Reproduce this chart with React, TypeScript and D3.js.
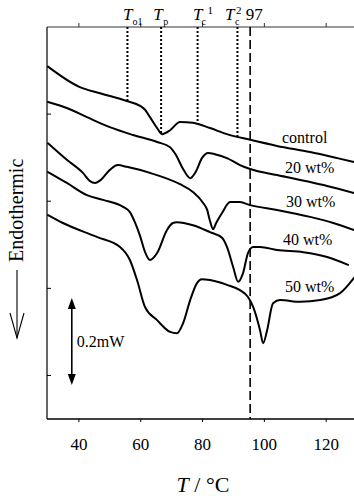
import React from 'react';
import * as d3 from 'd3';

const W = 354;
const H = 496;

// axis ticks
const xTickValues = [40, 60, 80, 100, 120];
const xTickLabels = ['40', '60', '80', '100', '120'];
const yTickValues = [0.2, 0.4, 0.6, 0.8];

// series names
const seriesNames = ['control', '20 wt%', '30 wt%', '40 wt%', '50 wt%'];

// control
const controlT = [30, 40.3, 46.8, 55.5, 59.8, 61.4, 63.0, 65.3, 66.9, 69.5, 72.7, 76.9, 82.4, 87.9, 95.4, 104.1, 114.8, 123.6, 129.0];
const controlQ = [0.909, 0.862, 0.848, 0.830, 0.819, 0.810, 0.793, 0.768, 0.754, 0.763, 0.782, 0.780, 0.768, 0.754, 0.741, 0.727, 0.713, 0.699, 0.690];

// 20 wt%
const w20T = [30, 36.1, 42.6, 50.0, 57.5, 65.3, 69.5, 71.4, 73.7, 76.0, 77.9, 79.8, 81.8, 84.0, 87.9, 92.1, 95.4, 104.1, 114.8, 120.3, 129.0];
const w20Q = [0.828, 0.814, 0.793, 0.770, 0.752, 0.736, 0.724, 0.706, 0.674, 0.653, 0.669, 0.699, 0.711, 0.708, 0.699, 0.683, 0.674, 0.660, 0.644, 0.635, 0.619];

// 30 wt%
const w30T = [30, 36.1, 41.3, 43.6, 45.2, 47.1, 50.0, 52.6, 55.5, 63.0, 72.7, 76.9, 80.2, 81.5, 82.4, 83.4, 84.4, 86.3, 88.9, 92.1, 95.4, 104.1, 114.8, 122.3, 129.0];
const w30Q = [0.733, 0.695, 0.665, 0.646, 0.642, 0.649, 0.672, 0.683, 0.679, 0.665, 0.639, 0.621, 0.596, 0.580, 0.555, 0.536, 0.550, 0.573, 0.598, 0.598, 0.591, 0.580, 0.564, 0.550, 0.534];

// 40 wt%
const w40T = [30, 36.1, 42.6, 47.8, 54.3, 56.5, 58.1, 59.8, 61.4, 63.0, 65.3, 68.5, 70.4, 71.7, 76.9, 82.4, 86.3, 87.9, 89.9, 91.5, 93.1, 94.7, 96.4, 98.6, 104.1, 112.6, 120.3, 127.1];
const w40Q = [0.667, 0.642, 0.614, 0.603, 0.587, 0.575, 0.552, 0.520, 0.483, 0.465, 0.481, 0.534, 0.550, 0.552, 0.545, 0.529, 0.516, 0.495, 0.449, 0.415, 0.435, 0.481, 0.495, 0.495, 0.488, 0.483, 0.472, 0.454];

// 50 wt%
const w50T = [30, 34.8, 45.8, 53.3, 56.5, 58.8, 61.4, 65.3, 69.5, 71.7, 73.7, 76.0, 78.2, 79.8, 82.4, 87.9, 92.1, 94.7, 96.4, 98.6, 99.6, 100.9, 102.8, 105.1, 111.6, 118.1, 124.5, 129.0];
const w50Q = [0.568, 0.550, 0.518, 0.495, 0.465, 0.419, 0.357, 0.327, 0.300, 0.297, 0.320, 0.373, 0.412, 0.421, 0.419, 0.408, 0.396, 0.380, 0.357, 0.304, 0.274, 0.304, 0.366, 0.373, 0.369, 0.373, 0.389, 0.424];

// characteristic temperatures
const markerSubs = ['o1', 'p', 'c', 'c'];
const markerSups = ['', '', '1', '2'];
const markerT = [55.7, 66.6, 78.4, 91.3];
const dashedT = 95.4;
const dashedLabel = '97';

// scale bar (mW)
const scaleBarT = 37.7;
const scaleBarLow = 0.178;
const scaleBarSpan = 0.2;
const scaleBarLabel = '0.2mW';

const xDomain = [30, 129];
const yDomain = [0.1, 1.0];

const serif = 'Liberation Serif, Times New Roman, DejaVu Serif, serif';

function interp(ts: number[], qs: number[], t: number): number {
  const i = d3.bisectLeft(ts, t);
  if (i <= 0) return qs[0];
  if (i >= ts.length) return qs[qs.length - 1];
  const f = (t - ts[i - 1]) / (ts[i] - ts[i - 1]);
  return qs[i - 1] + f * (qs[i] - qs[i - 1]);
}

export default function App() {
  const x = d3.scaleLinear().domain(xDomain).range([48, 354]);
  const y = d3.scaleLinear().domain(yDomain).range([419, 27]);

  const series = [
    { name: seriesNames[0], t: controlT, q: controlQ },
    { name: seriesNames[1], t: w20T, q: w20Q },
    { name: seriesNames[2], t: w30T, q: w30Q },
    { name: seriesNames[3], t: w40T, q: w40Q },
    { name: seriesNames[4], t: w50T, q: w50Q },
  ];

  const line = d3
    .line<[number, number]>()
    .x((d) => x(d[0]))
    .y((d) => y(d[1]))
    .curve(d3.curveMonotoneX);

  // label layout (pixel placement)
  const labelX = [282, 285, 286, 283, 285];
  const labelY = [143, 173, 207, 245, 292];

  const markerTdx = [-4.5, -8, -4.7, -12.5];
  const markerSubDx = [5, 2, 4, -2.5];
  const markerSupDx = [0, 0, 10, -1.5];

  const x0 = x(xDomain[0]);
  const x1 = x(xDomain[1]);
  const yTop = y(yDomain[1]);
  const yBot = y(yDomain[0]);

  const sbx = x(scaleBarT);
  const sbTop = y(scaleBarLow + scaleBarSpan);
  const sbBot = y(scaleBarLow);

  return (
    <svg
      width={W}
      height={H}
      viewBox={`0 0 ${W} ${H}`}
      style={{ position: 'absolute', left: 0, top: 0, background: '#fff' }}
    >
      <rect x={0} y={0} width={W} height={H} fill="#fff" />

      {/* axes */}
      <line x1={x0 - 1} x2={x0 - 1} y1={yTop} y2={yBot} stroke="#000" strokeWidth={1.2} />
      <line x1={x0 - 1} x2={x1} y1={yBot} y2={yBot} stroke="#000" strokeWidth={1.4} />
      <line x1={x0 - 1} x2={x1} y1={yTop} y2={yTop} stroke="#333" strokeWidth={1.2} />

      {xTickValues.map((v) => (
        <g key={`xt${v}`}>
          <line x1={x(v)} x2={x(v)} y1={yBot} y2={yBot + 3} stroke="#000" strokeWidth={1} />
          <line x1={x(v)} x2={x(v)} y1={yTop} y2={yTop - 4} stroke="#333" strokeWidth={1} />
        </g>
      ))}
      {xTickValues.map((v, i) => (
        <text
          key={`xl${v}`}
          x={x(v)}
          y={450}
          textAnchor="middle"
          fontFamily={serif}
          fontSize={17}
          fill="#000"
        >
          {xTickLabels[i]}
        </text>
      ))}
      {yTickValues.map((v) => (
        <line key={`yt${v}`} x1={x0 - 1} x2={x0 + 3} y1={y(v)} y2={y(v)} stroke="#000" strokeWidth={1} />
      ))}

      {/* x axis title */}
      <text x={203} y={492} textAnchor="middle" fontFamily={serif} fontSize={22} fill="#000">
        <tspan fontStyle="italic">T</tspan>
        <tspan> / </tspan>
        <tspan>°C</tspan>
      </text>

      {/* y axis title with arrow */}
      <text
        transform="translate(23,262) rotate(-90)"
        fontFamily={serif}
        fontSize={20}
        fill="#000"
      >
        Endothermic
      </text>
      <line x1={17} x2={17} y1={270} y2={338} stroke="#000" strokeWidth={1.1} />
      <polyline points={`10,313 17,338 24,313`} fill="none" stroke="#000" strokeWidth={1.1} />

      {/* characteristic temperature lines */}
      {markerT.map((t, i) => (
        <line
          key={`m${i}`}
          x1={x(t)}
          x2={x(t)}
          y1={yTop}
          y2={y(interp(controlT, controlQ, t))}
          stroke="#000"
          strokeWidth={2}
          strokeDasharray="2,2"
        />
      ))}
      <line
        x1={x(dashedT)}
        x2={x(dashedT)}
        y1={yTop}
        y2={yBot}
        stroke="#000"
        strokeWidth={1.6}
        strokeDasharray="9,4"
      />

      {markerT.map((t, i) => (
        <g key={`ml${i}`} fontFamily={serif} fill="#000">
          <text x={x(t) + markerTdx[i]} y={19.5} fontSize={17} fontStyle="italic">
            T
          </text>
          <text x={x(t) + markerSubDx[i]} y={25} fontSize={10}>
            {markerSubs[i]}
          </text>
          {markerSups[i] && (
            <text x={x(t) + markerSupDx[i]} y={14} fontSize={11}>
              {markerSups[i]}
            </text>
          )}
        </g>
      ))}
      <text x={x(dashedT) - 4.5} y={19.5} fontFamily={serif} fontSize={17} fill="#000">
        {dashedLabel}
      </text>

      {/* curves */}
      {series.map((s) => (
        <path
          key={s.name}
          d={line(s.t.map((t, i) => [t, s.q[i]] as [number, number])) || ''}
          fill="none"
          stroke="#000"
          strokeWidth={2}
          strokeLinejoin="round"
          strokeLinecap="round"
        />
      ))}

      {/* series labels */}
      {series.map((s, i) => (
        <text key={`sl${i}`} x={labelX[i]} y={labelY[i]} fontFamily={serif} fontSize={16} fill="#000">
          {s.name}
        </text>
      ))}

      {/* scale bar */}
      <line x1={sbx} x2={sbx} y1={sbTop + 8} y2={sbBot - 8} stroke="#000" strokeWidth={1.6} />
      <polygon points={`${sbx - 4},${sbTop + 11} ${sbx},${sbTop} ${sbx + 4},${sbTop + 11}`} fill="#000" />
      <polygon points={`${sbx - 4},${sbBot - 11} ${sbx},${sbBot} ${sbx + 4},${sbBot - 11}`} fill="#000" />
      <text x={sbx + 5} y={347} fontFamily={serif} fontSize={16} fill="#000">
        {scaleBarLabel}
      </text>
    </svg>
  );
}
